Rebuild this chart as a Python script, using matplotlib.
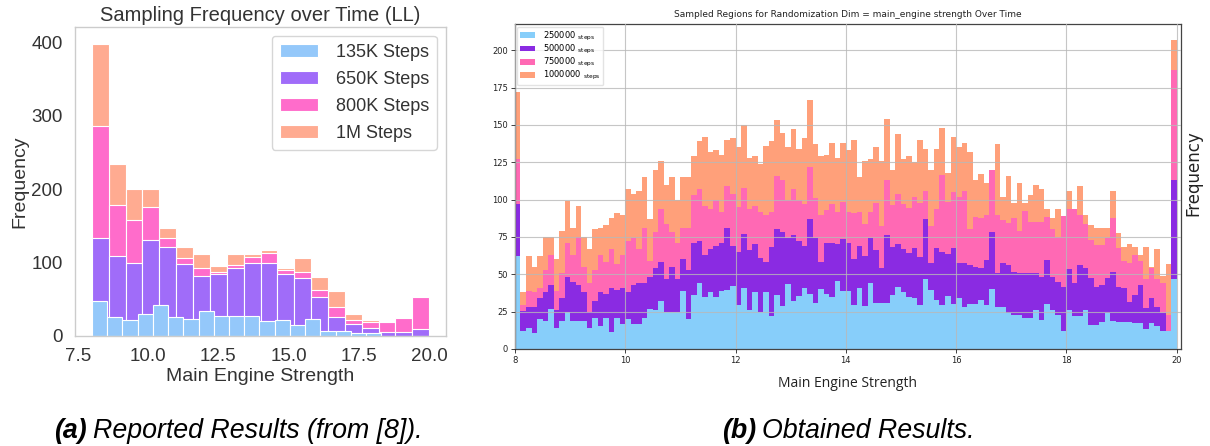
import numpy as np
import matplotlib
matplotlib.use("Agg")
import matplotlib.pyplot as plt

# ---- panel (a): reported results, heights ----
rep_labels = ["135K Steps", "650K Steps", "800K Steps", "1M Steps"]
rep_colors = ["#94c8fa", "#a06cf9", "#ff6ccb", "#ffab91"]

# 135K run covers a narrower range (8.0 .. 18.3), 19 visible bins
rep_135k_range = (8.0, 18.3)
rep_135k = [48, 26, 21, 30, 42, 26, 23, 34, 27, 27, 27, 20.5, 21.5, 14.6, 23,
            7, 6, 3.3, 3.3]
# other runs cover 8.0 .. 20.0 in 20 bins
rep_range = (8.0, 20.0)
rep_650k = [133.5, 108.5, 99.5, 130.5, 120.5, 98.5, 82, 84.5, 92.5, 99.5,
            99.5, 84.5, 78.5, 53.5, 26, 16, 10, 5.5, 5.5, 9.5]
rep_800k = [285.5, 178.5, 157.5, 175.5, 133.5, 106, 92, 87, 96, 107,
            113.5, 89, 86.5, 62, 39.5, 21.5, 19, 19, 23.7, 53.5]
rep_1m = [397.5, 233.5, 200.5, 199.5, 146.5, 121.5, 111, 95.7, 112, 112,
          117, 92.5, 106.5, 79.7, 61, 30, 21.4, 19, 23.7, 53.5]

# ---- panel (b): obtained results, 120 bins from 8 to 20 ----
obt_labels = ["250000", "500000", "750000", "1000000"]
obt_colors = ["lightskyblue", "blueviolet", "hotpink", "lightsalmon"]
obt_range = (8.0, 20.0)

obt_250k = [62, 12, 14, 11, 20, 19, 27, 14, 19, 25, 19, 19, 19, 14, 20.5, 15.6,
            20.5, 11.6, 20.5, 17, 20, 17, 17, 21, 27, 26, 32, 25, 25, 25, 39, 20,
            36, 44, 35, 38, 35, 39, 39.5, 42, 29.5, 41, 26, 38, 24.6, 38, 22, 36,
            29, 43.5, 32, 35.7, 40.6, 36.8, 31, 40, 36.6, 35, 45.7, 38.8, 38.8,
            29.3, 40.6, 29, 44, 31, 31, 31, 36.2, 41.7, 38.4, 34.8,
            33.9, 29.5, 46.9, 39.5,
            32.8, 29.5, 35.5, 30, 33.9, 28.3, 30, 30, 32.8, 29.5, 40, 28.3, 28.3,
            23.9, 22.8, 22.8, 21, 20.5, 26.1, 19.4, 30, 26.1, 22.8, 12.3, 26.1,
            22.1, 22.1, 26.1, 16, 16, 18.3, 23.9, 18.8, 18.3, 18.3, 18.3, 17.6,
            17.2, 13.2, 17.2, 15.4, 12.3, 12.3, 46.6]
obt_500k = [97, 25.7, 28, 28, 34, 38, 43, 26, 34, 48, 45, 43, 38, 25, 32, 38,
            37, 41, 39.5, 41, 38, 43, 44, 44, 48, 54, 58, 47, 55, 47, 60, 53,
            71, 72, 63, 67, 69, 71, 81, 69, 65, 77, 66, 70, 61, 58.5, 68.5, 80,
            78, 74, 76, 72, 69, 87, 74.5, 58, 71, 71, 70, 73.6, 71, 60, 69, 62,
            74.5, 66, 54, 76, 68, 70, 67, 64.5,
            67.4, 61.8, 86.8,
            57.4, 67.4, 65.2, 63.6, 67.4, 57.4, 57.4, 56.3, 55, 54, 59.6, 78, 51,
            57.4, 56.3, 51.8, 51, 51, 51, 51, 48.4, 59.6, 48.4, 45, 41.3, 53.3,
            44, 56.3, 54, 47.3, 41.7, 42.9, 47.3, 51.8, 41.3, 40.6, 31.7, 36.2,
            42.9, 27.2, 33.9, 27.9, 24.3, 12, 113]
obt_750k = [127, 29.5, 39, 38, 41, 53, 63, 39, 51, 71, 63, 75, 55, 44, 53, 63,
            58, 67, 57, 63, 72, 74, 67, 81, 59, 78, 94, 84, 78, 71, 81, 81,
            103, 107, 96, 94, 100, 91.5, 109, 104, 95, 108, 94, 96, 92, 90, 92,
            116, 113, 100, 107, 100, 97, 121.6, 101, 90, 93, 97, 92, 98.6, 92,
            91.3, 92, 83.5, 92, 98, 82.6, 113, 96.4, 103.6, 97, 94.6,
            102, 98, 106, 82, 94, 116.5, 98.7, 105, 102, 106, 80, 88.6, 88, 90,
            120, 90, 86.4, 84.6, 87.5, 79, 92.6, 85, 85, 85, 88.6, 80, 75, 89,
            93.7, 93.5, 89.7, 83.5, 73, 69.6, 69.6, 74, 88, 67.4, 59, 57.4, 63,
            59, 46.6, 54.5, 46.6, 44, 22.8, 187]
obt_1m = [172, 38, 62, 55, 62, 75, 75, 60, 79, 99, 81, 96, 75, 67, 80, 81,
          83, 88, 91, 90, 107, 104, 106, 115, 87, 120, 126, 110, 115, 100, 115,
          115, 129, 139, 142, 132, 133, 130, 140, 141, 135, 150, 128, 129, 124,
          136, 139, 153, 144.8, 135, 147, 134, 141, 167, 137, 129, 130, 138,
          128, 138, 133, 140, 115, 126, 127, 135, 126, 154, 120, 144, 127, 129,
          125, 140, 134, 120, 134, 148, 118, 142, 135.5, 138, 132, 113,
          117, 111, 120, 137, 102, 116, 98, 111, 98, 103, 110, 107, 93.5, 87.5,
          94, 85, 106, 93.5, 109, 90, 83, 81, 81, 81, 106, 77.5, 68.5, 70, 68.5,
          63, 68, 55, 67, 49, 57, 207]

TEXT = "#333333"
CAPTION_FONT = dict(fontsize=19.3, style="italic", family="Liberation Sans",
                    color="black")

fig = plt.figure(figsize=(12.1, 4.46), dpi=100)

# ================= panel (a) =================
ax1 = fig.add_axes([0.062, 0.247, 0.3066, 0.693])
rep_series = [rep_135k, rep_650k, rep_800k, rep_1m]
rep_ranges = [rep_135k_range, rep_range, rep_range, rep_range]
handles = []
# draw back to front: 1M, 800K, 650K, 135K
for vals, rng, col, lab in reversed(list(zip(rep_series, rep_ranges, rep_colors, rep_labels))):
    edges = np.linspace(rng[0], rng[1], len(vals) + 1)
    b = ax1.bar(edges[:-1], vals, width=np.diff(edges), align="edge",
                color=col, edgecolor="white", linewidth=0.8, label=lab)
    handles.append(b)
handles = handles[::-1]

ax1.set_xlim(7.4, 20.6)
ax1.set_ylim(0, 421)
ax1.set_xticks([7.5, 10.0, 12.5, 15.0, 17.5, 20.0])
ax1.set_xticklabels(["7.5", "10.0", "12.5", "15.0", "17.5", "20.0"])
ax1.set_yticks([0, 100, 200, 300, 400])
for sp in ax1.spines.values():
    sp.set_color("#cccccc")
    sp.set_linewidth(1.0)
ax1.tick_params(length=0, labelsize=13.5, colors=TEXT, pad=9)
for lbl in ax1.get_xticklabels() + ax1.get_yticklabels():
    lbl.set_family("Liberation Sans")
ax1.set_title("Sampling Frequency over Time (LL)", fontsize=14.5, color=TEXT,
              family="Liberation Sans", pad=4)
ax1.set_xlabel("Main Engine Strength", fontsize=14, color=TEXT,
               family="Liberation Sans", labelpad=2)
ax1.set_ylabel("Frequency", fontsize=14, color=TEXT,
               family="Liberation Sans", labelpad=2)
leg1 = ax1.legend(handles=handles, loc="upper right",
                  prop={"family": "Liberation Sans", "size": 13},
                  frameon=True, borderpad=0.45, labelspacing=0.55,
                  handlelength=2.1, handletextpad=1.0, borderaxespad=0.5)
leg1.get_frame().set_edgecolor("#cccccc")
for t in leg1.get_texts():
    t.set_color(TEXT)

# ================= panel (b) =================
ax2 = fig.add_axes([0.4256, 0.2175, 0.5504, 0.7285])
obt_series = [obt_250k, obt_500k, obt_750k, obt_1m]
edges = np.linspace(obt_range[0], obt_range[1], len(obt_1m) + 1)
handles2 = []
for vals, col, lab in reversed(list(zip(obt_series, obt_colors, obt_labels))):
    b = ax2.bar(edges[:-1], vals, width=np.diff(edges), align="edge",
                color=col, linewidth=0, label=lab)
    handles2.append(b)
handles2 = handles2[::-1]

ax2.set_xlim(8.0, 20.08)
ax2.set_ylim(0, 217.5)
ax2.set_xticks([8, 10, 12, 14, 16, 18, 20])
ax2.set_yticks(np.arange(0, 201, 25))
ax2.set_axisbelow(False)
ax2.grid(True, color="#b8b8b8", linewidth=0.8, alpha=0.8)
ax2.tick_params(labelsize=6, colors="#222222", length=3, width=0.6, pad=2)
for sp in ax2.spines.values():
    sp.set_color("#444444")
    sp.set_linewidth(0.9)
ax2.set_title("Sampled Regions for Randomization Dim = main_engine strength Over Time",
              fontsize=6.5, color="#222222", pad=5)
ax2.set_xlabel("Main Engine Strength", fontsize=10, family="Open Sans",
               color="#222222", labelpad=8)
ax2.yaxis.set_label_position("right")
ax2.set_ylabel("Frequency", fontsize=12, color="#222222")
ax2.yaxis.set_label_coords(1.005, 0.54)
leg2 = ax2.legend(handles=handles2,
                  labels=[l + r" $_{\mathregular{steps}}$" for l in obt_labels],
                  loc="upper left", fontsize=6, frameon=True,
                  borderpad=0.35, labelspacing=0.02, handlelength=1.7,
                  handletextpad=1.0, borderaxespad=0.3, fancybox=True)
leg2.get_frame().set_edgecolor("#dddddd")

# ================= captions =================
def caption(x_px, tag, rest):
    t = fig.text(x_px / 1210, 0.018, tag, fontweight="bold", **CAPTION_FONT)
    fig.canvas.draw()
    bb = t.get_window_extent()
    fig.text((bb.x1 + 6) / fig.bbox.width, 0.018, rest, **CAPTION_FONT)

caption(54, "(a)", "Reported Results (from [8]).")
caption(722, "(b)", "Obtained Results.")

fig.savefig("out.png", dpi=100)
